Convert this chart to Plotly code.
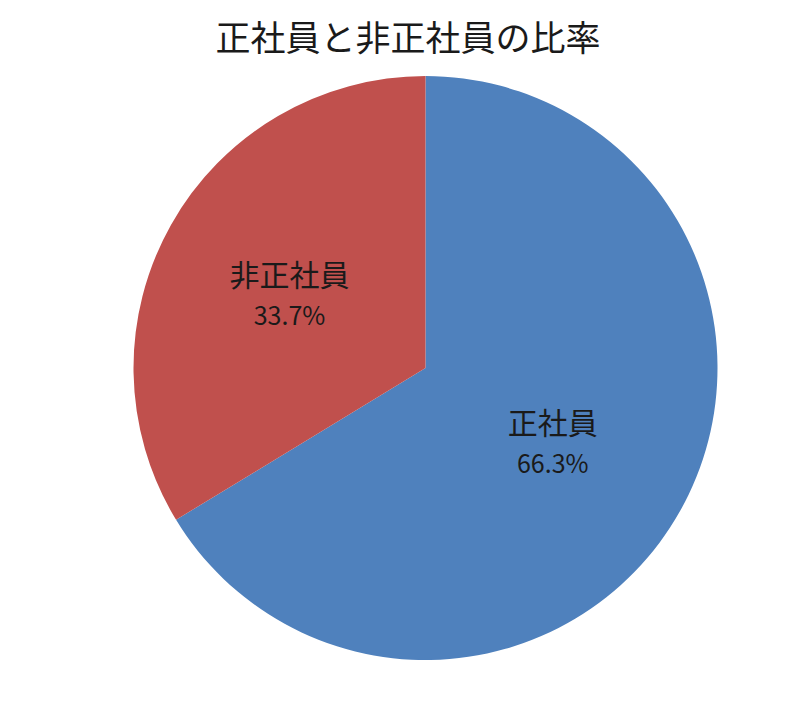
import plotly.graph_objects as go

labels = ["正社員", "非正社員"]
values = [66.3, 33.7]
colors = ["#4F81BD", "#C0504D"]

fig = go.Figure()

fig.add_trace(
    go.Pie(
        labels=labels,
        values=values,
        marker=dict(colors=colors, line=dict(width=0)),
        sort=False,
        direction="clockwise",
        rotation=0,
        texttemplate="%{label}<br><span style='font-size:25px'>%{percent:.1%}</span>",
        textposition="inside",
        insidetextorientation="horizontal",
        textfont=dict(family="Noto Sans CJK JP", size=30, color="#1a1a1a"),
        showlegend=False,
        domain=dict(x=[0.15688, 0.88688], y=[0.0738, 0.9034]),
        hoverinfo="label+percent",
    )
)

fig.update_layout(
    width=800,
    height=704,
    margin=dict(l=0, r=0, t=0, b=0),
    paper_bgcolor="white",
    title=dict(
        text="正社員と非正社員の比率",
        x=0.5,
        xanchor="center",
        y=1 - 31 / 704,
        yanchor="middle",
        font=dict(family="Noto Sans CJK JP", size=35, color="#1a1a1a"),
    ),
)

fig.write_html("out.html")
